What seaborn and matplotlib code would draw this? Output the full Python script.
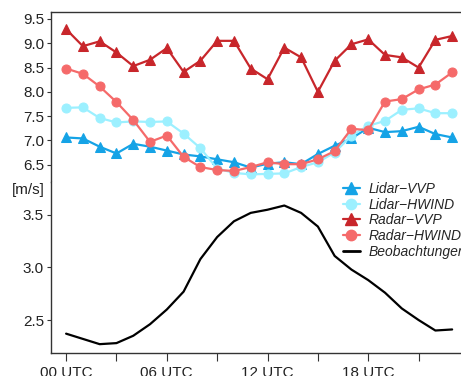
import numpy as np
import pandas as pd
import seaborn as sns
import matplotlib.pyplot as plt
from matplotlib.lines import Line2D

sns.set_style("ticks")
plt.rcParams["font.family"] = ["Liberation Sans", "DejaVu Sans"]

# hourly values, 00 UTC .. 23 UTC
hours = list(range(24))

lidar_vvp = [7.06, 7.04, 6.87, 6.73, 6.93, 6.87, 6.79, 6.71, 6.67, 6.61, 6.55, 6.44,
             6.52, 6.55, 6.51, 6.72, 6.89, 7.04, 7.26, 7.17, 7.19, 7.28, 7.13, 7.06]
lidar_hwind = [7.67, 7.68, 7.46, 7.37, 7.39, 7.38, 7.39, 7.14, 6.84, 6.42, 6.33, 6.30,
               6.31, 6.32, 6.45, 6.55, 6.75, 7.10, 7.30, 7.40, 7.63, 7.66, 7.56, 7.56]
radar_vvp = [9.29, 8.94, 9.04, 8.81, 8.53, 8.66, 8.90, 8.41, 8.64, 9.05, 9.05, 8.48,
             8.26, 8.91, 8.71, 8.00, 8.64, 8.98, 9.08, 8.76, 8.71, 8.50, 9.07, 9.15]
radar_hwind = [8.48, 8.37, 8.11, 7.79, 7.42, 6.97, 7.10, 6.66, 6.45, 6.39, 6.37, 6.45,
               6.55, 6.51, 6.51, 6.61, 6.78, 7.24, 7.21, 7.80, 7.85, 8.05, 8.15, 8.40]
beobachtungen = [2.37, 2.32, 2.27, 2.28, 2.35, 2.46, 2.60, 2.77, 3.08, 3.29, 3.44, 3.52,
                 3.55, 3.59, 3.52, 3.39, 3.11, 2.98, 2.88, 2.76, 2.61, 2.50, 2.40, 2.41]

tick_hours = [0, 3, 6, 9, 12, 15, 18, 21]
tick_labels = ["00 UTC", "", "06 UTC", "", "12 UTC", "", "18 UTC", ""]

series = [
    ("Lidar\u2212VVP", lidar_vvp, "#15a3e6", "^", 7.5),
    ("Lidar\u2212HWIND", lidar_hwind, "#9cf0ff", "o", 6.5),
    ("Radar\u2212VVP", radar_vvp, "#c8262b", "^", 7.5),
    ("Radar\u2212HWIND", radar_hwind, "#f56a6a", "o", 6.5),
]

W, H = 461, 376
fig = plt.figure(figsize=(W / 100, H / 100), dpi=100)
left = 51 / W
width = 428 / W
split = 1 - 182 / H
ax_top = fig.add_axes([left, split, width, (1 - 12 / H) - split])
ax_bot = fig.add_axes([left, 1 - 353.3 / H, width, split - (1 - 353.3 / H)])

for name, vals, color, marker, ms in series:
    sns.lineplot(x=hours, y=vals, ax=ax_top, color=color, marker=marker,
                 markersize=ms, markeredgecolor=color, linewidth=1.6, legend=False)

sns.lineplot(x=hours, y=beobachtungen, ax=ax_bot, color="black", linewidth=1.6, legend=False)

for ax in (ax_top, ax_bot):
    ax.set_xlim(-0.9, 24.6)
    ax.set_xlabel("")
    ax.set_ylabel("")
    ax.spines["right"].set_visible(False)
    for s in ax.spines.values():
        s.set_color("#333333")
        s.set_linewidth(1.0)
    ax.tick_params(axis="y", direction="out", length=3, labelsize=11, pad=2,
                   color="#333333", labelcolor="#222222")

ax_top.spines["bottom"].set_visible(False)
ax_top.set_ylim(6.143, 9.644)
ax_top.set_yticks([6.5, 7.0, 7.5, 8.0, 8.5, 9.0, 9.5])
ax_top.set_yticklabels(["6.5", "7.0", "7.5", "8.0", "8.5", "9.0", "9.5"])
ax_top.set_xticks([])

ax_bot.spines["top"].set_visible(False)
ax_bot.set_ylim(2.183, 3.814)
ax_bot.set_yticks([2.5, 3.0, 3.5])
ax_bot.set_yticklabels(["2.5", "3.0", "3.5"])
ax_bot.set_xticks(tick_hours)
ax_bot.set_xticklabels(tick_labels)
ax_bot.tick_params(axis="x", direction="out", length=6, labelsize=11, pad=3,
                   color="#333333", labelcolor="#222222")

fig.text(45 / W, 1 - 190 / H, "[m/s]", ha="right", va="center", fontsize=11, color="#222222")

handles = [Line2D([], [], color=c, marker=m, markersize=ms * 1.15, markeredgecolor=c, linewidth=1.6)
           for _, _, c, m, ms in series]
handles.append(Line2D([], [], color="black", linewidth=2))
labels = [s[0] for s in series] + ["Beobachtungen"]
ax_bot.legend(handles, labels, loc="upper left", bbox_to_anchor=(343 / W, 1 - 182 / H),
              bbox_transform=fig.transFigure, frameon=False, borderpad=0, borderaxespad=0,
              handlelength=1.2, handletextpad=0.65, labelspacing=0.12,
              prop={"style": "italic", "size": 10})

plt.savefig("out.png", dpi=100)
plt.close()
